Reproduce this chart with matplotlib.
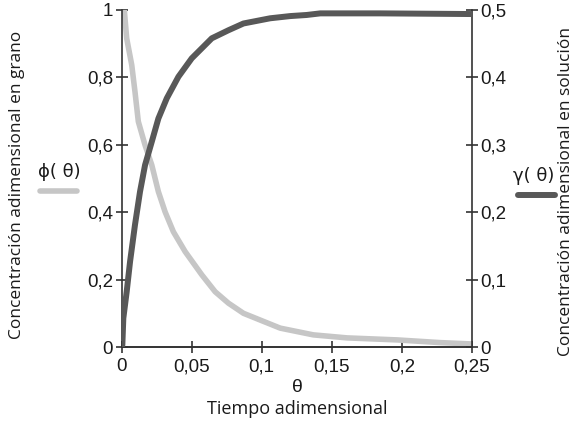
import numpy as np
import matplotlib
matplotlib.use('Agg')
import matplotlib.pyplot as plt
from matplotlib.lines import Line2D

# phi(theta), concentracion en grano (eje izquierdo)
theta_phi = [0.002, 0.0037, 0.0073, 0.0096, 0.012, 0.0168, 0.0216, 0.0263,
             0.0311, 0.037, 0.0454, 0.0573, 0.0668, 0.0763, 0.087, 0.0989,
             0.1132, 0.1368, 0.161, 0.1968, 0.2275, 0.25]
phi = [1.0, 0.916, 0.837, 0.758, 0.669, 0.599, 0.540, 0.461,
       0.401, 0.342, 0.283, 0.214, 0.164, 0.130, 0.100, 0.080,
       0.056, 0.036, 0.027, 0.021, 0.013, 0.009]

# gamma(theta), concentracion en solucion (eje derecho)
theta_gam = [0.0, 0.0006, 0.0013, 0.0037, 0.0061, 0.0096, 0.0132, 0.0168,
             0.0216, 0.0263, 0.0323, 0.0406, 0.0501, 0.0644, 0.0763, 0.087,
             0.106, 0.1204, 0.132, 0.1418, 0.1846, 0.25]
gam = [0.0, 0.003, 0.0426, 0.082, 0.1266, 0.181, 0.2304, 0.270,
       0.3046, 0.339, 0.369, 0.401, 0.4283, 0.458, 0.470, 0.480,
       0.4877, 0.491, 0.4926, 0.495, 0.495, 0.494]

x_ticks = [0, 0.05, 0.1, 0.15, 0.2, 0.25]
x_labels = ['0', '0,05', '0,1', '0,15', '0,2', '0,25']
yl_ticks = [0, 0.2, 0.4, 0.6, 0.8, 1.0]
yl_labels = ['0', '0,2', '0,4', '0,6', '0,8', '1']
yr_ticks = [0, 0.1, 0.2, 0.3, 0.4, 0.5]
yr_labels = ['0', '0,1', '0,2', '0,3', '0,4', '0,5']

light = '#c6c6c6'
dark = '#585858'
spine_c = '#333333'
tick_font = 'Liberation Sans'
lab_font = 'Open Sans'

fig = plt.figure(figsize=(5.81, 4.24), dpi=100)
ax1 = fig.add_axes([121.5 / 581, 1 - 347 / 424, 350.5 / 581, 337 / 424])
ax2 = ax1.twinx()

ax1.plot(theta_phi, phi, color=light, lw=4.0, solid_capstyle='butt',
         solid_joinstyle='round', zorder=2)
ax2.plot(theta_gam, gam, color=dark, lw=4.3, solid_capstyle='butt',
         solid_joinstyle='round', zorder=3)

ax1.set_xlim(0, 0.25)
ax1.set_ylim(0, 1)
ax2.set_ylim(0, 0.5)

ax1.set_xticks(x_ticks)
ax1.set_xticklabels(x_labels, fontfamily=tick_font, fontsize=13.5)
ax1.set_yticks(yl_ticks)
ax1.set_yticklabels(yl_labels, fontfamily=tick_font, fontsize=13.5)
ax2.set_yticks(yr_ticks)
ax2.set_yticklabels(yr_labels, fontfamily=tick_font, fontsize=13.5)

for ax in (ax1, ax2):
    ax.spines['top'].set_visible(False)
    for s in ('left', 'right', 'bottom'):
        ax.spines[s].set_color(spine_c)
        ax.spines[s].set_linewidth(1.2)
    ax.tick_params(direction='inout', length=8, width=1.2, color=spine_c,
                   labelcolor='#1a1a1a', pad=2)
ax1.tick_params(axis='x', pad=4)

ax1.spines['right'].set_visible(False)
ax2.spines['left'].set_visible(False)

# axis titles
fig.text(17 / 581, 1 - 185 / 424, 'Concentración adimensional en grano',
         rotation=90, ha='center', va='center', fontsize=12.5,
         fontfamily=lab_font, color='#1a1a1a')
fig.text(566 / 581, 1 - 192 / 424, 'Concentración adimensional en solución',
         rotation=90, ha='center', va='center', fontsize=12.5,
         fontfamily=lab_font, color='#1a1a1a')
fig.text(297 / 581, 1 - 387 / 424, 'θ', ha='center', va='center',
         fontsize=14, fontfamily=tick_font, color='#1a1a1a')
fig.text(297 / 581, 1 - 409 / 424, 'Tiempo adimensional', ha='center',
         va='center', fontsize=13, fontfamily=lab_font, color='#1a1a1a')

# legend entries
fig.text(59 / 581, 1 - 172 / 424, 'ϕ( θ)', ha='center', va='center',
         fontsize=13, fontfamily=['DejaVu Sans'], color='#1a1a1a')
fig.add_artist(Line2D([40 / 581, 77 / 581], [1 - 191 / 424] * 2,
                      color=light, lw=4.0, solid_capstyle='round',
                      transform=fig.transFigure))
fig.text(534 / 581, 1 - 176 / 424, 'γ( θ)', ha='center', va='center',
         fontsize=13, fontfamily=['DejaVu Sans'], color='#1a1a1a')
fig.add_artist(Line2D([518 / 581, 555 / 581], [1 - 195 / 424] * 2,
                      color=dark, lw=4.3, solid_capstyle='round',
                      transform=fig.transFigure))

fig.savefig('out.png', dpi=100)
